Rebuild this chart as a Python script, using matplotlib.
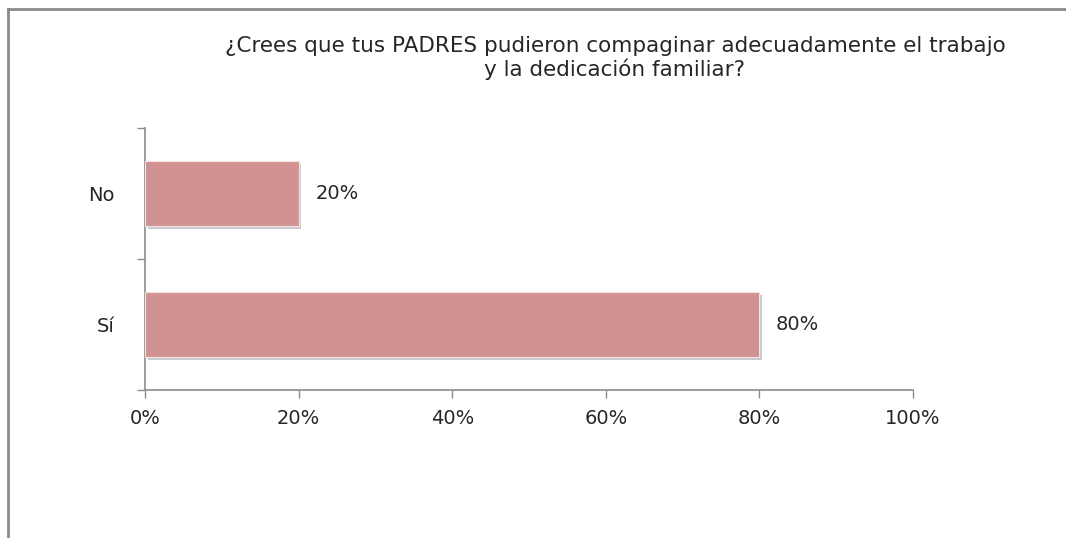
import matplotlib
matplotlib.use("Agg")
import matplotlib.pyplot as plt
from matplotlib.lines import Line2D
import matplotlib.patheffects as pe

plt.rcParams["font.family"] = ["DejaVu Sans"]

categories = ["Sí", "No"]
values = [80, 20]
x_ticks = [0, 20, 40, 60, 80, 100]
title = "¿Crees que tus PADRES pudieron compaginar adecuadamente el trabajo\ny la dedicación familiar?"

BAR_COLOR = "#D19292"
AXIS_COLOR = "#8C8C8C"
TEXT_COLOR = "#262626"

fig = plt.figure(figsize=(10.66, 5.38), dpi=100)
ax = fig.add_axes([145 / 1066, 1 - 390 / 538, 768 / 1066, 262 / 538])

ypos = list(range(len(categories)))
bars = ax.barh(ypos, values, height=0.5, color=BAR_COLOR,
               edgecolor="#F2E2E2", linewidth=0.8, zorder=3)
for b in bars:
    b.set_path_effects([pe.SimplePatchShadow(offset=(2, -2), shadow_rgbFace="#999999", alpha=0.5),
                        pe.Normal()])

for y, v in zip(ypos, values):
    ax.annotate(f"{v}%", (v, y), xytext=(12, 0), textcoords="offset points",
                va="center", ha="left", fontsize=14, color=TEXT_COLOR)

ax.set_xlim(0, 100)
ax.set_ylim(-0.5, len(categories) - 0.5)
ax.set_xticks(x_ticks)
ax.set_xticklabels([f"{t}%" for t in x_ticks], fontsize=14, color=TEXT_COLOR)
ax.set_yticks(ypos)
ax.set_yticklabels(categories, fontsize=14, color=TEXT_COLOR)
ax.set_yticks([-0.5, 0.5, 1.5], minor=True)

ax.tick_params(axis="x", direction="out", length=6, width=1, color=AXIS_COLOR, pad=8)
ax.tick_params(axis="y", which="major", length=0, pad=22)
ax.tick_params(axis="y", which="minor", direction="out", length=6, width=1, color=AXIS_COLOR)

for s in ["top", "right"]:
    ax.spines[s].set_visible(False)
for s in ["left", "bottom"]:
    ax.spines[s].set_color(AXIS_COLOR)
    ax.spines[s].set_linewidth(1.2)

fig.text(615 / 1066, 1 - 58 / 538, title, ha="center", va="center",
         fontsize=15.5, family=["DejaVu Sans"], color=TEXT_COLOR,
         linespacing=1.2)

# outer frame (left and top edges visible)
fig.add_artist(Line2D([8 / 1066, 8 / 1066], [0, 1 - 9 / 538], transform=fig.transFigure,
                      color="#8A8A8A", linewidth=2))
fig.add_artist(Line2D([8 / 1066, 1], [1 - 9 / 538, 1 - 9 / 538], transform=fig.transFigure,
                      color="#8A8A8A", linewidth=2))

fig.savefig("out.png", dpi=100)
